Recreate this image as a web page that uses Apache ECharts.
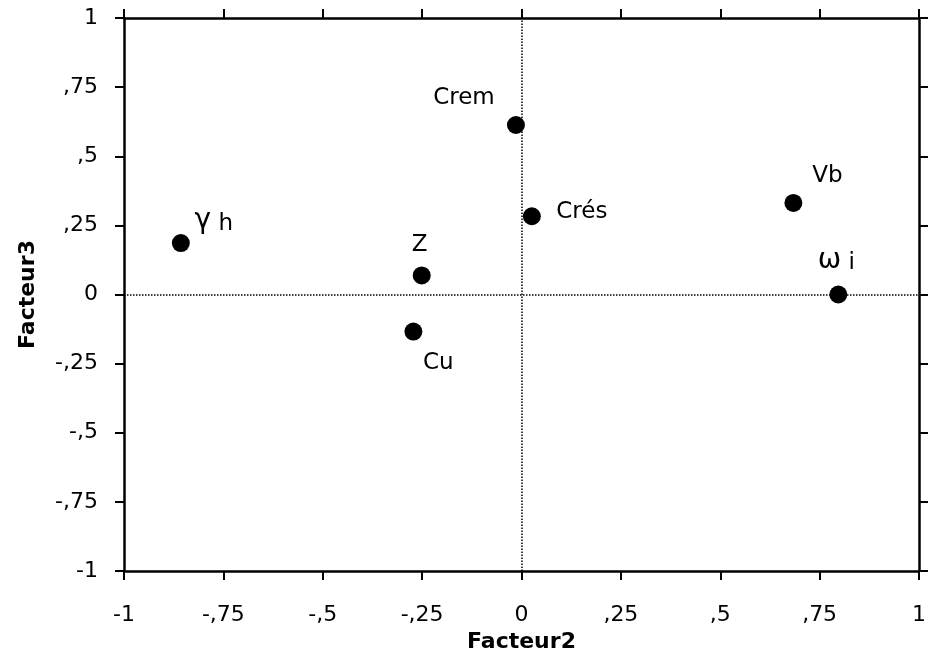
<!DOCTYPE html>
<html>
<head>
<meta charset="utf-8">
<script src="https://cdn.jsdelivr.net/npm/echarts@6/dist/echarts.min.js"></script>
<style>
html,body{margin:0;padding:0;background:#fff;}
#chart{width:929px;height:660px;}
</style>
</head>
<body>
<div id="chart"></div>
<script>
// Data
const names = ['γ h', 'Z', 'Cu', 'Crem', 'Crés', 'Vb', 'ω i'];
const facteur2 = [-0.857, -0.251, -0.272, -0.014, 0.026, 0.684, 0.797];
const facteur3 = [0.186, 0.069, -0.134, 0.613, 0.283, 0.331, 0.0];
const tickValues = [-1, -0.75, -0.5, -0.25, 0, 0.25, 0.5, 0.75, 1];
const tickLabels = ['-1', '-,75', '-,5', '-,25', '0', ',25', ',5', ',75', '1'];
const xName = 'Facteur2';
const yName = 'Facteur3';

// Label placement (style)
const labelOffset = [[33, -23], [-2, -34], [25, 28], [-52, -30], [50, -8], [34, -30], [-2, -35]];

function fmt(v) {
  for (let i = 0; i < tickValues.length; i++) {
    if (Math.abs(v - tickValues[i]) < 1e-9) return tickLabels[i];
  }
  return '';
}

function labelFmt(p) {
  const s = p.name;
  if (/^[\u0370-\u03ff]/.test(s)) {
    return '{g|' + s.charAt(0) + '}{n|' + s.slice(1) + '}';
  }
  return '{n|' + s + '}';
}

const FONT = 'DejaVu Sans';
const axisLineStyle = { color: '#000', width: 2.5 };
const tickStyle = { color: '#000', width: 2 };

const points = names.map((n, i) => ({
  name: n,
  value: [facteur2[i], facteur3[i]],
  label: { offset: labelOffset[i] }
}));

const chart = echarts.init(document.getElementById('chart'), null, { renderer: 'canvas' });
chart.setOption({
  animation: false,
  backgroundColor: '#fff',
  grid: { left: 124, right: 6, top: 18, bottom: 89, containLabel: false },
  xAxis: [{
    type: 'value', min: -1, max: 1, interval: 0.25, position: 'bottom',
    name: xName, nameLocation: 'middle', nameGap: 54,
    nameTextStyle: { fontFamily: FONT, fontSize: 22, fontWeight: 'bold', color: '#000' },
    axisLine: { show: true, onZero: false, lineStyle: axisLineStyle },
    axisTick: { show: true, inside: false, length: 9, lineStyle: tickStyle },
    axisLabel: { formatter: fmt, margin: 33, fontFamily: FONT, fontSize: 22, color: '#000' },
    splitLine: { show: false }
  }, {
    type: 'value', min: -1, max: 1, interval: 0.25, position: 'top',
    axisLine: { show: true, onZero: false, lineStyle: axisLineStyle },
    axisTick: { show: true, inside: false, length: 9, lineStyle: tickStyle },
    axisLabel: { show: false },
    splitLine: { show: false }
  }],
  yAxis: [{
    type: 'value', min: -1, max: 1, interval: 0.25, position: 'left',
    name: yName, nameLocation: 'middle', nameGap: 85, nameRotate: 90,
    nameTextStyle: { fontFamily: FONT, fontSize: 22, fontWeight: 'bold', color: '#000' },
    axisLine: { show: true, onZero: false, lineStyle: axisLineStyle },
    axisTick: { show: true, inside: false, length: 9, lineStyle: tickStyle },
    axisLabel: { formatter: fmt, margin: 26, fontFamily: FONT, fontSize: 22, color: '#000' },
    splitLine: { show: false }
  }, {
    type: 'value', min: -1, max: 1, interval: 0.25, position: 'right',
    axisLine: { show: true, onZero: false, lineStyle: axisLineStyle },
    axisTick: { show: true, inside: false, length: 9, lineStyle: tickStyle },
    axisLabel: { show: false },
    splitLine: { show: false }
  }],
  series: [{
    type: 'scatter',
    xAxisIndex: 0, yAxisIndex: 0,
    symbol: 'circle', symbolSize: 18,
    itemStyle: { color: '#000', opacity: 1 },
    label: {
      show: true, position: 'inside', formatter: labelFmt,
      fontFamily: FONT, fontSize: 23, color: '#000',
      rich: {
        g: { fontFamily: FONT, fontSize: 28, color: '#000', verticalAlign: 'bottom', lineHeight: 30 },
        n: { fontFamily: FONT, fontSize: 23, color: '#000', verticalAlign: 'bottom', lineHeight: 30 }
      }
    },
    data: points,
    markLine: {
      silent: true, symbol: 'none', label: { show: false },
      lineStyle: { color: '#000', type: 'dotted', width: 1.5, opacity: 1 },
      data: [{ xAxis: 0 }, { yAxis: 0 }]
    },
    z: 3
  }]
});
</script>
</body>
</html>
